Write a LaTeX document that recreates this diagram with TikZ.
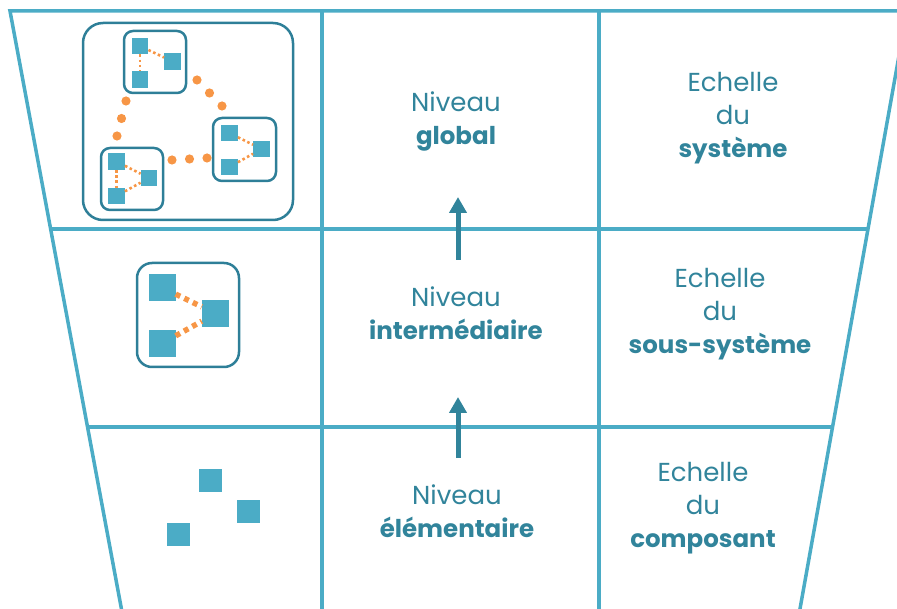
\documentclass[tikz,border=0pt]{standalone}
\usepackage{fontspec}
\setmainfont{Poppins}
\usetikzlibrary{arrows.meta}
\definecolor{frame}{HTML}{4BACC6}
\definecolor{dteal}{HTML}{31849B}
\definecolor{boxline}{HTML}{2E7F98}
\definecolor{orng}{HTML}{F79646}
\newcommand{\bldword}[1]{{\fontsize{24.5}{33}\selectfont\bfseries #1}}
\begin{document}
\begin{tikzpicture}[x=1pt,y=-1pt,
  frameline/.style={draw=frame,line width=3.5pt},
  sqr/.style={fill=frame,draw=none,inner sep=0pt,minimum size=#1},
  bx/.style={draw=boxline,line width=2.5pt,inner sep=0pt},
  smalldots/.style={draw=orng,line width=2.6pt,dash pattern=on 2.6pt off 2.6pt},
  middots/.style={draw=orng,line width=5.5pt,dash pattern=on 5pt off 4.5pt},
  bigdot/.style={fill=orng},
  uparrow/.style={draw=dteal,line width=5pt,-{Triangle[width=17pt,length=16pt]}},
  lbl/.style={text=dteal,align=center,font=\fontsize{26}{33}\selectfont,inner sep=0pt}
]
\useasboundingbox (0,0) rectangle (897,609);
\clip (0,0) rectangle (897,609);
% frame
\coordinate (TL) at (10,11);
\coordinate (TR) at (907,11);
\coordinate (BL) at (123.5,620);
\coordinate (BR) at (798,620);
\coordinate (L1) at (50.6,229);
\coordinate (R1) at (868,229);
\coordinate (L2) at (87.5,427);
\coordinate (R2) at (833,427);
\coordinate (V1t) at (322,11);
\coordinate (V1b) at (322,620);
\coordinate (V2t) at (599,11);
\coordinate (V2b) at (599,620);
\draw[frameline] (BL) -- (TL) -- (TR) -- (BR);
\draw[frameline] (L1) -- (R1);
\draw[frameline] (L2) -- (R2);
\draw[frameline] (V1t) -- (V1b);
\draw[frameline] (V2t) -- (V2b);

% top icon
\node[bx,rounded corners=20pt,minimum width=210pt,minimum height=197pt] (big) at (188,121.5) {};
\node[bx,rounded corners=9pt,minimum width=62pt,minimum height=62pt] (btop) at (155,62) {};
\node[bx,rounded corners=9pt,minimum width=63pt,minimum height=63pt] (bright) at (244.5,149.5) {};
\node[bx,rounded corners=9pt,minimum width=62pt,minimum height=62pt] (bleft) at (132,179) {};

\node[sqr=16.5pt] (t1) at (140,46) {};
\node[sqr=16.5pt] (t2) at (172.5,61.5) {};
\node[sqr=16.5pt] (t3) at (140,79.5) {};
\draw[smalldots] (t1) -- (t2);
\draw[smalldots] (t1) -- (t3);

\node[sqr=16.5pt] (r1) at (229.5,133) {};
\node[sqr=16.5pt] (r2) at (261.5,149) {};
\node[sqr=16.5pt] (r3) at (229.5,167) {};
\draw[smalldots] (r1) -- (r2);
\draw[smalldots] (r3) -- (r2);

\node[sqr=16.5pt] (l1) at (116.5,161.5) {};
\node[sqr=16.5pt] (l2) at (149,178) {};
\node[sqr=16.5pt] (l3) at (116.5,196) {};
\draw[smalldots] (l1) -- (l2);
\draw[smalldots] (l1) -- (l3);
\draw[smalldots] (l3) -- (l2);

\foreach \p in {(197,80),(209.5,93),(222,106),(126,101),(121.5,118.5),(117,136),(172,160),(189.5,159),(207,158)}
  \fill[bigdot] \p circle (4.6pt);

% middle icon
\node[bx,rounded corners=15pt,minimum width=102pt,minimum height=104pt] (mbox) at (188,315) {};
\node[sqr=27pt] (m1) at (162,287.5) {};
\node[sqr=27pt] (m2) at (215.5,313.5) {};
\node[sqr=27pt] (m3) at (162,343.5) {};
\draw[middots] (m1) -- (m2);
\draw[middots] (m3) -- (m2);

% bottom icon
\node[sqr=23pt] (e1) at (210.5,480.5) {};
\node[sqr=23pt] (e2) at (248,511) {};
\node[sqr=23pt] (e3) at (178.5,534.5) {};

% arrows
\coordinate (a1s) at (458,260);
\coordinate (a1e) at (458,197);
\coordinate (a2s) at (458,458);
\coordinate (a2e) at (458,397);
\draw[uparrow] (a1s) -- (a1e);
\draw[uparrow] (a2s) -- (a2e);

% labels
\node[lbl] (n1) at (456,121) {Niveau\\\bldword{global}};
\node[lbl] (n2) at (456,313) {Niveau\\\bldword{intermédiaire}};
\node[lbl] (n3) at (457,511) {Niveau\\\bldword{élémentaire}};
\node[lbl] (s1) at (733,118.5) {Echelle\\du\\\bldword{système}};
\node[lbl] (s2) at (720,314) {Echelle\\du\\\bldword{sous-système}};
\node[lbl] (s3) at (703,508.5) {Echelle\\du\\\bldword{composant}};
\end{tikzpicture}
\end{document}
